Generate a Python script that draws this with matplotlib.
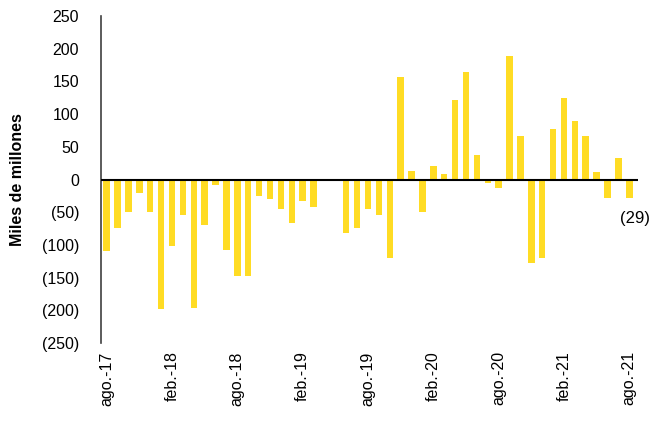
import numpy as np
import matplotlib
matplotlib.use('Agg')
import matplotlib.pyplot as plt

plt.rcParams['font.family'] = ['Liberation Sans', 'DejaVu Sans']

# valores mensuales (miles de millones), ago-17 a ago-21
valores = [-110, -74, -50, -20, -50, -198, -101, -55, -196, -69,
           -8, -108, -147, -147, -25, -30, -45, -67, -33, -42,
           -3, 0, -82, -74, -45, -55, -120, 157, 13, -50,
           21, 9, 121, 165, 38, -6, -13, 189, 67, -128,
           -120, 77, 125, 89, 67, 11, -28, 33, -29]
meses = ['ago', 'sep', 'oct', 'nov', 'dic', 'ene', 'feb', 'mar', 'abr', 'may', 'jun', 'jul']
etiquetas = []
for i in range(len(valores)):
    anio = 17 + (i + 7) // 12
    etiquetas.append(meses[i % 12] + '.-' + str(anio))
yticks = [250, 200, 150, 100, 50, 0, -50, -100, -150, -200, -250]

def fmt(v):
    return str(v) if v >= 0 else '(' + str(-v) + ')'

fig = plt.figure(figsize=(6.66, 4.29), dpi=100)
ax = fig.add_axes([0.152, 0.2005, 0.806, 0.762])
x = np.arange(len(valores))
ax.bar(x, valores, width=0.6, color='#FFDC24', zorder=2)
ax.axhline(0, color='black', linewidth=1.5, zorder=3)

ax.set_xlim(-0.5, 48.8)
ax.set_ylim(-250, 250)
ax.set_yticks(yticks)
ax.set_yticklabels([fmt(v) for v in yticks], fontsize=11.5)
ax.set_xticks(x[::6])
ax.set_xticklabels(etiquetas[::6], rotation=90, fontsize=11.5)
ax.tick_params(axis='x', length=0, pad=6)
ax.tick_params(axis='y', length=0, pad=16)
for s in ['top', 'right', 'bottom']:
    ax.spines[s].set_visible(False)
ax.spines['left'].set_color('#404040')
ax.spines['left'].set_linewidth(1.2)
ax.set_ylabel('Miles de millones', fontsize=11.5, fontweight='bold', labelpad=12)

ax.text(48.5, -48, fmt(valores[-1]), ha='center', va='top', fontsize=12)

fig.savefig('out.png', dpi=100)
